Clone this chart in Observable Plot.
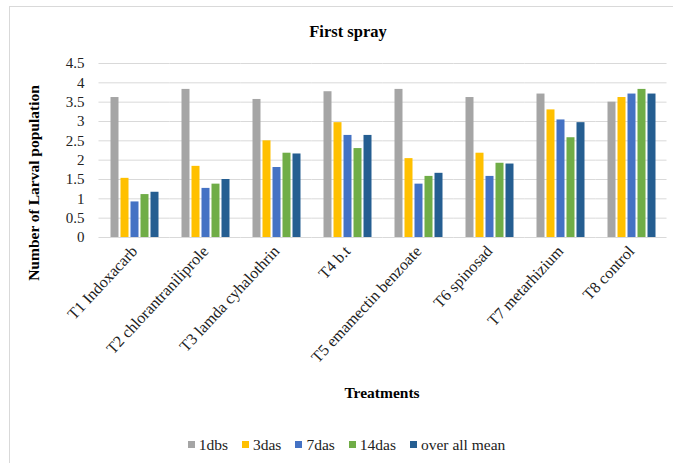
<!DOCTYPE html>
<html>
<head>
<meta charset="utf-8">
<script src="https://cdn.jsdelivr.net/npm/d3@7"></script>
<script src="https://cdn.jsdelivr.net/npm/@observablehq/plot@0.6"></script>
<style>
  html, body { margin: 0; padding: 0; background: #fff; }
  #wrap { position: relative; width: 673px; height: 463px; overflow: hidden; font-family: "Liberation Serif", "Times New Roman", serif; color: #222; }
  #frame { position: absolute; left: 9px; top: 6px; width: 720px; height: 500px; border: 1px solid #d9d9d9; box-sizing: border-box; }
  #chart { position: absolute; left: 0; top: 0; }
  #title { position: absolute; left: 0; width: 696px; top: 23px; text-align: center; font-weight: bold; font-size: 16.5px; line-height: 18px; color: #000; }
  #xlabel { position: absolute; left: 282px; width: 200px; top: 384px; text-align: center; font-weight: bold; font-size: 15.5px; line-height: 17px; color: #000; }
  #ylabel { position: absolute; left: 33px; top: 183px; transform: translate(-50%, -50%) rotate(-90deg); white-space: nowrap; font-weight: bold; font-size: 15.5px; line-height: 17px; color: #000; }
  #legend { position: absolute; left: 0; width: 693px; top: 436px; display: flex; justify-content: center; font-size: 15.5px; line-height: 17px; color: #222; }
  .item { display: flex; align-items: center; margin: 0 7px; }
  .sw { width: 7px; height: 7px; margin-right: 4px; }
</style>
</head>
<body>
<div id="wrap">
  <div id="frame"></div>
  <div id="chart"></div>
  <div id="title">First spray</div>
  <div id="ylabel">Number of Larval population</div>
  <div id="xlabel">Treatments</div>
  <div id="legend"></div>
</div>
<script>
const treatments = ["T1 Indoxacarb", "T2 chlorantraniliprole", "T3 lamda cyhalothrin", "T4 b.t", "T5 emamectin benzoate", "T6 spinosad", "T7 metarhizium", "T8 control"];
const series = ["1dbs", "3das", "7das", "14das", "over all mean"];
const colors = ["#A5A5A5", "#FFC000", "#4472C4", "#70AD47", "#255E91"];
const v1dbs  = [3.62, 3.83, 3.57, 3.77, 3.83, 3.62, 3.71, 3.50];
const v3das  = [1.53, 1.84, 2.50, 2.97, 2.04, 2.18, 3.30, 3.62];
const v7das  = [0.92, 1.27, 1.81, 2.64, 1.38, 1.58, 3.04, 3.71];
const v14das = [1.11, 1.38, 2.18, 2.30, 1.58, 1.92, 2.58, 3.83];
const vMean  = [1.17, 1.50, 2.16, 2.64, 1.66, 1.90, 2.97, 3.71];
const yTicks = [0, 0.5, 1, 1.5, 2, 2.5, 3, 3.5, 4, 4.5];

const seriesValues = [v1dbs, v3das, v7das, v14das, vMean];
const data = [];
treatments.forEach((t, i) => {
  series.forEach((s, j) => data.push({treatment: t, series: s, value: seriesValues[j][i]}));
});

const W = 673, H = 410;
const mL = 98.5, mR = 6, mT = 63, mB = H - 237;
const padIn = 0.268, padOut = padIn / 2;
const step = (W - mL - mR) / (treatments.length - padIn + 2 * padOut);
const gap = step * padIn;

const chart = Plot.plot({
  width: W,
  height: H,
  marginLeft: mL,
  marginRight: mR,
  marginTop: mT,
  marginBottom: mB,
  style: {fontFamily: '"Liberation Serif", "Times New Roman", serif', fontSize: "15px", color: "#222", background: "transparent"},
  fx: {domain: treatments, paddingInner: padIn, paddingOuter: padOut, label: null},
  x: {domain: series, paddingInner: 0.23, paddingOuter: 0, axis: null},
  y: {domain: [0, 4.5], axis: null},
  color: {domain: series, range: colors},
  marks: [
    Plot.ruleY(yTicks, {stroke: "#d9d9d9", strokeWidth: 1, insetLeft: -gap / 2, insetRight: -gap / 2}),
    Plot.barY(data, {fx: "treatment", x: "series", y: "value", fill: "series"}),
    Plot.axisY(yTicks, {tickSize: 0, tickPadding: 24, fontSize: 15, tickFormat: d => String(d), label: null}),
    Plot.axisFx({anchor: "bottom", tickRotate: -47, tickSize: 0, tickPadding: 11, fontSize: 16, label: null})
  ]
});
document.getElementById("chart").appendChild(chart);

const legend = document.getElementById("legend");
series.forEach((s, j) => {
  const it = document.createElement("div");
  it.className = "item";
  const sw = document.createElement("span");
  sw.className = "sw";
  sw.style.background = colors[j];
  const tx = document.createElement("span");
  tx.textContent = s;
  it.appendChild(sw);
  it.appendChild(tx);
  legend.appendChild(it);
});
</script>
</body>
</html>
